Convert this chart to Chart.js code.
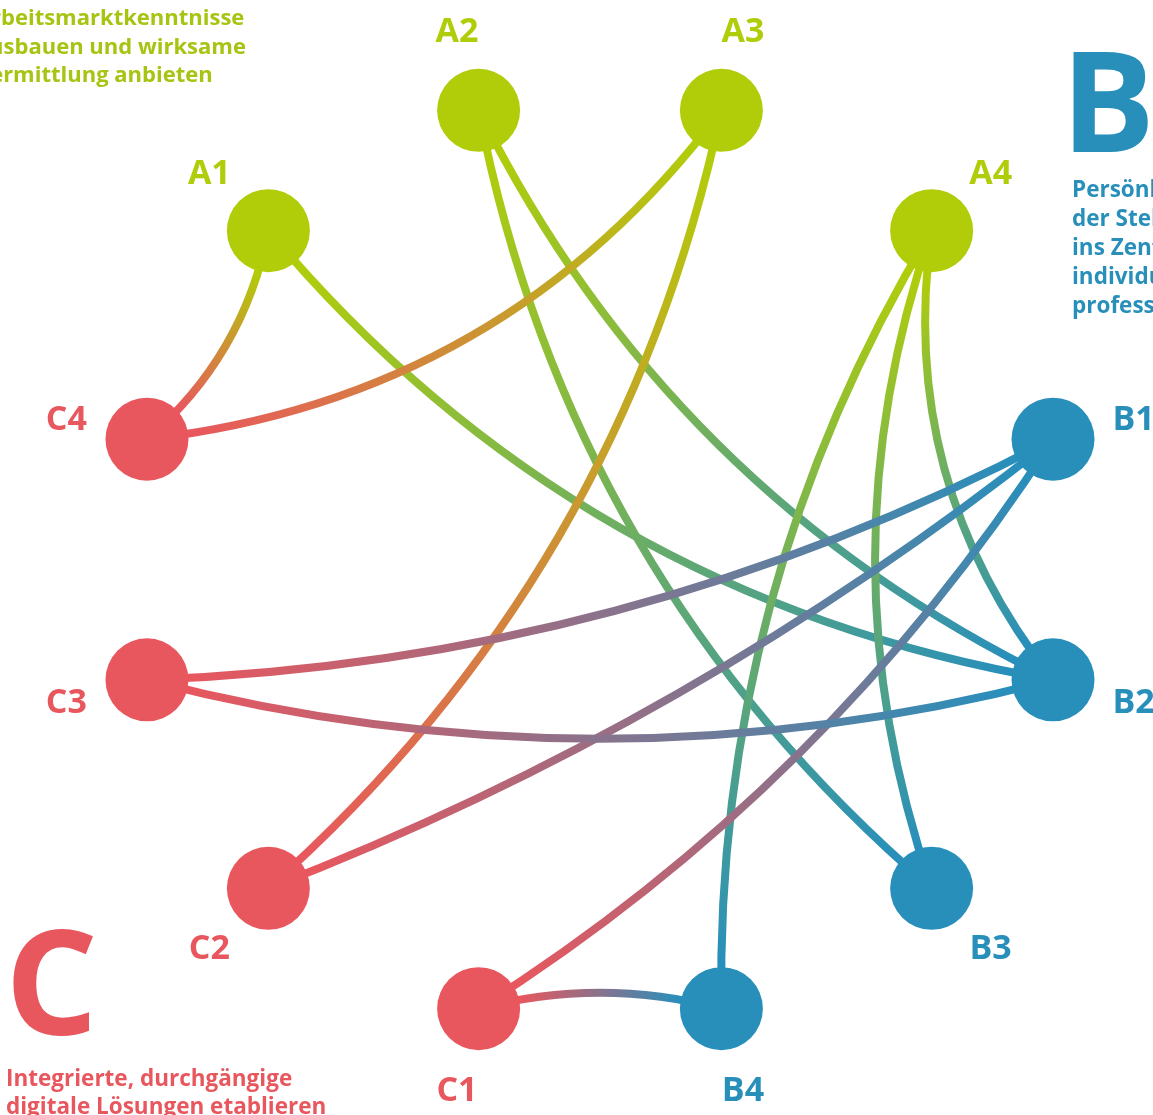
<!DOCTYPE html>
<html lang="de">
<head>
<meta charset="utf-8">
<title>Handlungsfelder – Verknüpfungen</title>
<script src="https://cdn.jsdelivr.net/npm/chart.js@4/dist/chart.umd.min.js"></script>
<style>
  html, body { margin: 0; padding: 0; background: #fff; overflow: hidden; }
  #wrap { width: 1153px; height: 1115px; }
</style>
</head>
<body>
<div id="wrap"><canvas id="chart" width="1153" height="1115"></canvas></div>
<script>
// ──────────────────────────────────────────────
// Data — nodes on the circle, clockwise from A1
// ──────────────────────────────────────────────
const nodeNames = ['A1', 'A2', 'A3', 'A4', 'B1', 'B2', 'B3', 'B4', 'C1', 'C2', 'C3', 'C4'];

// links between nodes
const linkFrom = ['A1', 'A1', 'A2', 'A2', 'A3', 'A3', 'A4', 'A4', 'A4', 'B1', 'B1', 'B1', 'B2', 'C1'];
const linkTo   = ['C4', 'B2', 'B2', 'B3', 'C4', 'C2', 'B4', 'B3', 'B2', 'C3', 'C2', 'C1', 'C3', 'B4'];

// group texts
const groupTitles = {
  A: ['Arbeitsmarktkenntnisse', 'ausbauen und wirksame', 'Vermittlung anbieten'],
  B: ['Persönlichkeit', 'der Stellensuchenden', 'ins Zentrum stellen,', 'individuell und', 'professionell beraten'],
  C: ['Integrierte, durchgängige', 'digitale Lösungen etablieren'],
};

// ──────────────────────────────────────────────
// Style
// ──────────────────────────────────────────────
const groupColors = { A: '#b1cd0a', B: '#288fbb', C: '#e8575e' };
// sideways bow of each link, as a share of its length (sign = side)
const linkBend = [-0.087, 0.092, 0.085, 0.087, -0.108, -0.082, 0.072, 0.086, 0.107, -0.057, -0.038, -0.055, -0.065, -0.066];
const FONT = '"Open Sans", "Noto Sans", sans-serif';
const NODE_R = 41.5;

// place nodes evenly round the circle (30° apart, A1 at 315°)
const nodePoints = nodeNames.map((n, i) => {
  const a = (315 + 30 * i) * Math.PI / 180;
  return { x: Math.sin(a), y: Math.cos(a) };
});
const group = n => n[0];

// curved links with a colour blend from one group to the other
const linkPlugin = {
  id: 'links',
  beforeDatasetsDraw(chart) {
    const { ctx, scales: { x, y } } = chart;
    ctx.save();
    linkFrom.forEach((from, k) => {
      const to = linkTo[k];
      const p = nodePoints[nodeNames.indexOf(from)];
      const q = nodePoints[nodeNames.indexOf(to)];
      const x0 = x.getPixelForValue(p.x), y0 = y.getPixelForValue(p.y);
      const x1 = x.getPixelForValue(q.x), y1 = y.getPixelForValue(q.y);
      const dx = x1 - x0, dy = y1 - y0, len = Math.hypot(dx, dy);
      const off = 2 * linkBend[k] * len;
      const cx = (x0 + x1) / 2 - dy / len * off;
      const cy = (y0 + y1) / 2 + dx / len * off;
      const ux = dx / len, uy = dy / len;
      const grad = ctx.createLinearGradient(x0 + ux * NODE_R, y0 + uy * NODE_R, x1 - ux * NODE_R, y1 - uy * NODE_R);
      grad.addColorStop(0, groupColors[group(from)]);
      grad.addColorStop(1, groupColors[group(to)]);
      ctx.beginPath();
      ctx.moveTo(x0, y0);
      ctx.quadraticCurveTo(cx, cy, x1, y1);
      ctx.strokeStyle = grad;
      ctx.lineWidth = 8;
      ctx.lineCap = 'butt';
      ctx.stroke();
    });
    ctx.restore();
  },
};

// node labels and group texts
const textPlugin = {
  id: 'texts',
  afterDatasetsDraw(chart) {
    const { ctx, scales: { x, y } } = chart;
    ctx.save();
    ctx.textBaseline = 'alphabetic';

    // node labels, just outside the circle
    ctx.font = 'bold 34px ' + FONT;
    ctx.textAlign = 'center';
    nodeNames.forEach((n, i) => {
      const p = nodePoints[i];
      ctx.fillStyle = groupColors[group(n)];
      ctx.fillText(n, x.getPixelForValue(p.x * 1.178), y.getPixelForValue(p.y * 1.178) + 12);
    });

    // big group letters
    ctx.textAlign = 'left';
    ctx.font = 'bold 140px ' + FONT;
    ctx.fillStyle = groupColors.B;
    ctx.fillText('B', 1061, 152);
    ctx.font = 'bold 146px ' + FONT;
    ctx.fillStyle = groupColors.C;
    ctx.fillText('C', 5, 1035);

    // group descriptions (A is cut by the left edge)
    ctx.font = 'bold 22px ' + FONT;
    ctx.fillStyle = '#a6c412';
    const aLeft = 1 - ctx.measureText('Ar').width;
    groupTitles.A.forEach((t, i) => ctx.fillText(t, aLeft, 25 + i * 28.5));
    ctx.font = 'bold 22.5px ' + FONT;
    ctx.fillStyle = groupColors.B;
    groupTitles.B.forEach((t, i) => ctx.fillText(t, 1072, 197 + i * 29));
    ctx.fillStyle = groupColors.C;
    groupTitles.C.forEach((t, i) => ctx.fillText(t, 6, 1086 + i * 28));
    ctx.restore();
  },
};

new Chart(document.getElementById('chart'), {
  type: 'scatter',
  data: {
    labels: nodeNames,
    datasets: [{
      data: nodePoints,
      pointRadius: NODE_R,
      pointHoverRadius: NODE_R,
      pointBackgroundColor: nodeNames.map(n => groupColors[group(n)]),
      pointBorderWidth: 0,
      borderWidth: 0,
      clip: false,
    }],
  },
  options: {
    responsive: false, animation: false, events: [],
    layout: { padding: 0, autoPadding: false },
    plugins: { legend: { display: false }, tooltip: { enabled: false } },
    scales: {
      x: { type: 'linear', display: false, min: -1.2793, max: 1.1791 },
      y: { type: 'linear', display: false, min: -1.1946, max: 1.2032 },
    },
  },
  plugins: [linkPlugin, textPlugin],
});
</script>
</body>
</html>
